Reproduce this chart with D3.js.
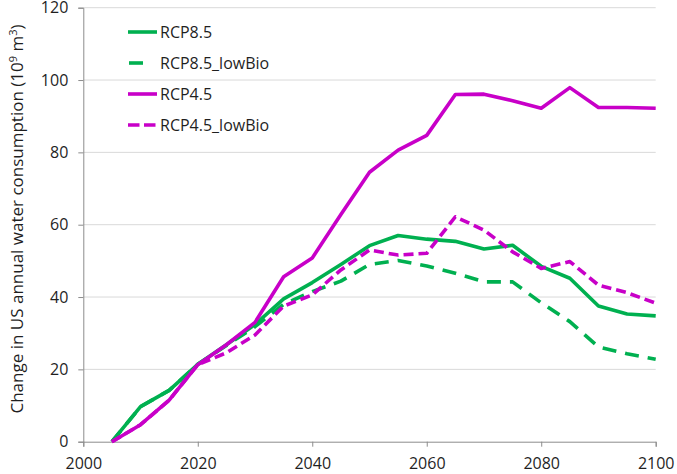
<!DOCTYPE html>
<html>
<head>
<meta charset="utf-8">
<script src="https://cdn.jsdelivr.net/npm/d3@7"></script>
<style>
  html, body { margin: 0; padding: 0; background: #fff; }
  svg { display: block; }
  text { font-family: "Open Sans", sans-serif; fill: #1f1f1f; }
</style>
</head>
<body>
<svg id="chart" width="677" height="474"></svg>
<script>
const years = [2005, 2010, 2015, 2020, 2025, 2030, 2035, 2040, 2045, 2050, 2055, 2060, 2065, 2070, 2075, 2080, 2085, 2090, 2095, 2100];
const rcp85 = [0, 9.7, 14.2, 21.4, 26.8, 32.4, 39.5, 44, 49, 54.2, 57, 56, 55.4, 53.3, 54.3, 48.5, 45.2, 37.5, 35.3, 34.8];
const rcp85LowBio = [0, 9.7, 14.2, 21.4, 26.6, 31.8, 38, 41.5, 44.4, 49, 50.1, 48.6, 46.6, 44.2, 44.2, 38.4, 33.2, 26.2, 24.3, 22.8];
const rcp45 = [0, 4.7, 11.5, 21.3, 26.8, 33, 45.6, 50.8, 62.8, 74.5, 80.6, 84.7, 96, 96.1, 94.3, 92.2, 97.9, 92.4, 92.4, 92.2];
const rcp45LowBio = [0, 4.7, 11.5, 21.3, 24.6, 29.5, 37.5, 40.6, 47.5, 53, 51.6, 52.1, 62.2, 58.5, 52.5, 47.9, 49.8, 43.3, 41.2, 38.3];
const seriesNames = ["RCP8.5", "RCP8.5_lowBio", "RCP4.5", "RCP4.5_lowBio"];
const xTicks = [2000, 2020, 2040, 2060, 2080, 2100];
const yTicks = [0, 20, 40, 60, 80, 100, 120];

const GREEN = "#00b050", MAGENTA = "#c800c8";
const series = [
  { name: seriesNames[0], values: rcp85, color: GREEN, dash: null },
  { name: seriesNames[1], values: rcp85LowBio, color: GREEN, dash: "14,9" },
  { name: seriesNames[2], values: rcp45, color: MAGENTA, dash: null },
  { name: seriesNames[3], values: rcp45LowBio, color: MAGENTA, dash: "10,5" }
];

const svg = d3.select("#chart");
const x = d3.scaleLinear().domain([2000, 2100]).range([83.3, 655.7]);
const y = d3.scaleLinear().domain([0, 120]).range([441.7, 7.7]);

// gridlines
svg.append("g").selectAll("line").data(yTicks.filter(d => d > 0)).join("line")
  .attr("x1", x(2000)).attr("x2", x(2100))
  .attr("y1", d => y(d)).attr("y2", d => y(d))
  .attr("stroke", "#d9d9d9").attr("stroke-width", 1);

// axes
const yAxis = svg.append("g").attr("transform", `translate(${x(2000)},0)`)
  .call(d3.axisLeft(y).tickValues(yTicks).tickSize(5).tickPadding(10));
const xAxis = svg.append("g").attr("transform", `translate(0,${y(0)})`)
  .call(d3.axisBottom(x).tickValues(xTicks).tickFormat(d3.format("d")).tickSize(5).tickPadding(11));
[yAxis, xAxis].forEach(g => {
  g.select(".domain").attr("stroke", "#8c8c8c").attr("stroke-width", 1);
  g.selectAll(".tick line").attr("stroke", "#8c8c8c");
  g.selectAll(".tick text").style("font-family", '"Open Sans", sans-serif').style("font-size", "16px").attr("fill", "#1f1f1f");
});

// lines
const line = d3.line().x((d, i) => x(years[i])).y(d => y(d));
svg.append("g").selectAll("path").data(series).join("path")
  .attr("d", d => line(d.values))
  .attr("fill", "none")
  .attr("stroke", d => d.color)
  .attr("stroke-width", 3.6)
  .attr("stroke-linejoin", "round")
  .attr("stroke-dasharray", d => d.dash);

// legend
const legendRows = [32, 63, 94, 125];
const lg = svg.append("g");
series.forEach((s, i) => {
  const ry = legendRows[i];
  if (i === 1) {
    lg.append("line").attr("x1", 129).attr("x2", 143).attr("y1", ry).attr("y2", ry)
      .attr("stroke", s.color).attr("stroke-width", 3.6);
  } else {
    lg.append("line").attr("x1", 128).attr("x2", 157).attr("y1", ry).attr("y2", ry)
      .attr("stroke", s.color).attr("stroke-width", 3.6)
      .attr("stroke-dasharray", i === 3 ? "11.5,4.5" : null);
  }
  lg.append("text").attr("x", 160).attr("y", ry).attr("dy", "0.36em")
    .style("font-size", "16px").text(s.name);
});

// y-axis title
const yt = svg.append("text")
  .attr("transform", `translate(23,${219}) rotate(-90)`)
  .attr("text-anchor", "middle")
  .style("font-size", "17px");
yt.append("tspan").text("Change in US annual water consumption (10");
yt.append("tspan").attr("dy", -6).style("font-size", "11px").text("9");
yt.append("tspan").attr("dy", 6).text(" m");
yt.append("tspan").attr("dy", -6).style("font-size", "11px").text("3");
yt.append("tspan").attr("dy", 6).text(")");
</script>
</body>
</html>
